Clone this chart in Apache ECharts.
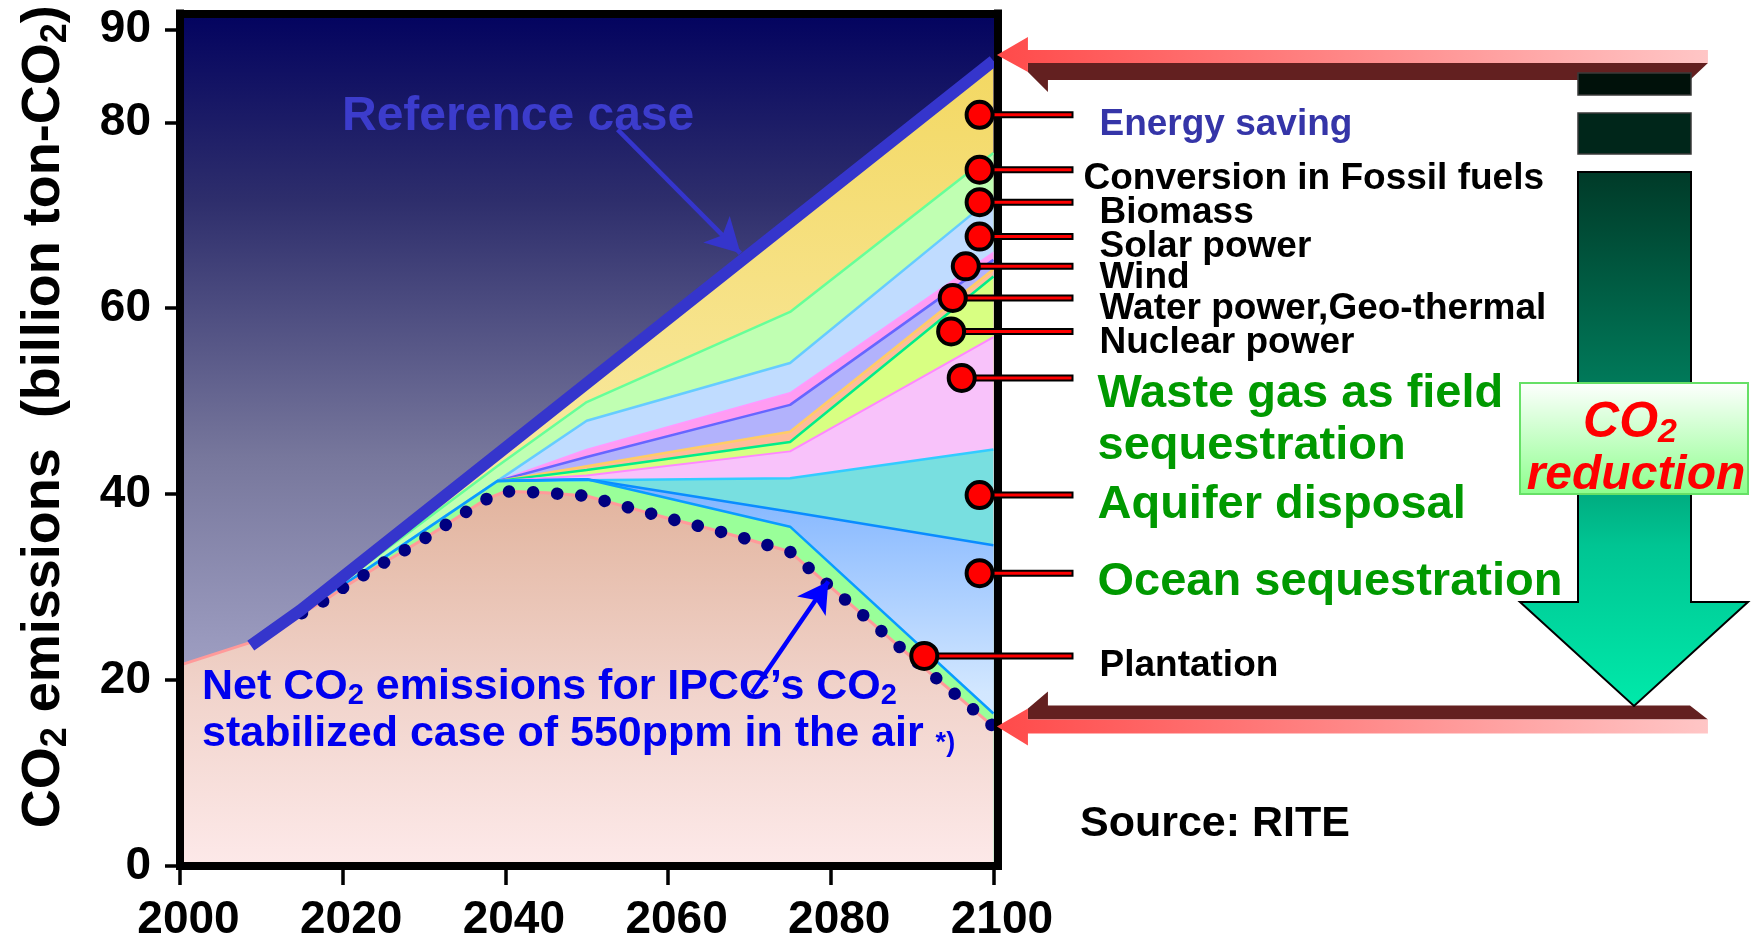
<!DOCTYPE html>
<html>
<head>
<meta charset="utf-8">
<title>CO2 emissions and reduction measures</title>
<script src="https://cdn.jsdelivr.net/npm/echarts@6/dist/echarts.min.js"></script>
<style>
  html, body { margin: 0; padding: 0; background: #ffffff; }
  #chart { width: 1762px; height: 946px; }
</style>
</head>
<body>
<div id="chart"></div>
<script>
// ---------------------------------------------------------------
// Data (billion ton-CO2)
// ---------------------------------------------------------------
const xTicks = [2000, 2020, 2040, 2060, 2080, 2100];
const yTicks = [0, 20, 40, 60, 80, 90];

// Reference case (no countermeasures)
const refYears  = [2008.7, 2014.8, 2100];
const refValues = [23.7, 27.5, 86.6];

// Net CO2 emissions for the IPCC 550 ppm stabilized case
const netYears  = [2000, 2008.5, 2015, 2017.5, 2020, 2025, 2030, 2035, 2037.5, 2040, 2045,
                   2050, 2055, 2060, 2065, 2070, 2075, 2080, 2085, 2090, 2095, 2100];
const netValues = [21.6, 24.0, 27.2, 28.4, 29.9, 32.6, 35.2, 38.0, 39.4, 40.3, 40.15,
                   39.8, 38.6, 37.4, 36.3, 35.1, 33.8, 30.0, 26.2, 22.4, 18.7, 15.0];

// Upper edge of each reduction wedge (cumulative level)
const wedgeYears     = [2015, 2039, 2050, 2075, 2100];
const conversionTop  = [27.3, 43.0, 49.9, 59.6, 76.7];
const biomassTop     = [27.25, 41.4, 47.9, 54.1, 72.0];
const solarTop       = [null, 41.4, 44.8, 50.9, 66.0];
const windTop        = [null, 41.4, 44.0, 49.6, 65.2];
const waterTop       = [null, 41.4, 43.0, 46.7, 64.2];
const nuclearTop     = [null, 41.4, 42.6, 45.6, 63.4];
const wasteGasTop    = [null, 41.4, 42.0, 44.6, 56.9];
const aquiferTop     = [null, 41.4, 41.5, 41.7, 44.8];
const oceanTop       = [null, 41.4, 41.6, 38.1, 34.5];
const plantationTop  = [27.2, 41.4, 41.6, 36.5, 16.4];

// Call-outs for the measures
const measureNames  = ['Energy saving', 'Conversion in Fossil fuels', 'Biomass', 'Solar power', 'Wind',
                       'Water power,Geo-thermal', 'Nuclear power', 'Waste gas as field\nsequestration',
                       'Aquifer disposal', 'Ocean sequestration', 'Plantation'];
const measureYears  = [2098.3, 2098.3, 2098.3, 2098.3, 2096.6, 2095.0, 2094.8, 2096.1, 2098.3, 2098.3, 2091.5];
const measureValues = [80.8, 74.9, 71.4, 67.7, 64.5, 61.1, 57.5, 52.5, 39.9, 31.5, 22.6];

// ---------------------------------------------------------------
const FONT = '"Liberation Sans", Arial, Helvetica, sans-serif';
const Y_MAX = 91.7;
const X_MAX = 2100.5;

// text placement of the call-outs (offset from the plot's right edge / marker)
const calloutKind = ['blue', 'black', 'black', 'black', 'black', 'black', 'black', 'green', 'green', 'green', 'black'];
const calloutDx   = [102, 86, 102, 102, 102, 102, 102, 100, 100, 100, 102];
const calloutDy   = [10, 9, 10.5, 10, 11.5, 11, 11.5, 42, 10, 8.5, 10];
const calloutFont = {
  blue:  { font: 'bold 37px ' + FONT, fill: '#3535a8' },
  black: { font: 'bold 37px ' + FONT, fill: '#000000' },
  green: { font: 'bold 47px ' + FONT, fill: '#009900' }
};

const pairs = (xs, ys) => xs.map((x, i) => [x, ys[i]]);
const vGrad = (stops) => ({ type: 'linear', x: 0, y: 0, x2: 0, y2: 1,
  colorStops: stops.map(s => ({ offset: s[0], color: s[1] })) });
const hGrad = (stops) => ({ type: 'linear', x: 0, y: 0, x2: 1, y2: 0,
  colorStops: stops.map(s => ({ offset: s[0], color: s[1] })) });

function wedge(name, top, fill, lineColor, lineWidth) {
  return {
    name, type: 'line', data: pairs(wedgeYears, top),
    symbol: 'none', silent: true, connectNulls: false,
    lineStyle: { color: lineColor, width: lineWidth },
    areaStyle: { color: fill, opacity: 1 }
  };
}

const chart = echarts.init(document.getElementById('chart'), null, { renderer: 'canvas' });

function renderCallout(params, api) {
  const i = params.dataIndex;
  const p = api.coord([api.value(0), api.value(1)]);
  const cs = params.coordSys;
  const right = cs.x + cs.width;
  const endX = right + 76;
  const st = calloutFont[calloutKind[i]];
  return {
    type: 'group',
    children: [
      { type: 'line', shape: { x1: p[0], y1: p[1], x2: endX, y2: p[1] },
        style: { stroke: '#000000', lineWidth: 7 } },
      { type: 'line', shape: { x1: p[0], y1: p[1], x2: endX - 2, y2: p[1] },
        style: { stroke: '#ff0000', lineWidth: 3 } },
      { type: 'circle', shape: { cx: p[0], cy: p[1], r: 13 },
        style: { fill: '#ff0000', stroke: '#000000', lineWidth: 4 } },
      { type: 'text', x: right + calloutDx[i], y: p[1] + calloutDy[i],
        style: { text: measureNames[i], font: st.font, fill: st.fill,
                 align: 'left', verticalAlign: 'middle', lineHeight: 52 } }
    ]
  };
}

// rich styles for a main run and a smaller run sitting on the same baseline
const subRich = (F, f, L, color, extra) => ({
  a: Object.assign({ fontSize: F, lineHeight: L, fontWeight: 'bold', fontFamily: FONT, color, fill: color }, extra || {}),
  s: Object.assign({ fontSize: f, lineHeight: L - 0.62 * (F - f), verticalAlign: 'bottom',
                     fontWeight: 'bold', fontFamily: FONT, color, fill: color }, extra || {})
});

const option = {
  animation: false,
  backgroundColor: '#ffffff',
  textStyle: { fontFamily: FONT },
  grid: {
    left: 180, top: 13.5, width: 817.5, height: 852.5,
    show: true, borderWidth: 0,
    backgroundColor: vGrad([[0, '#03035f'], [0.22, '#2e2e6c'], [0.52, '#77779c'],
                            [0.74, '#9a9abe'], [1, '#b8b8d8']]),
    outerBoundsMode: 'none'
  },
  xAxis: [{
    type: 'value', min: 2000, max: X_MAX, position: 'bottom', z: 10,
    axisLine: { show: true, onZero: false, lineStyle: { color: '#000', width: 8, cap: 'square' } },
    axisTick: { show: true, customValues: xTicks, length: 19, lineStyle: { color: '#000', width: 3.5 } },
    axisLabel: { customValues: xTicks, formatter: v => String(v), margin: 31, padding: [0, 0, 0, 17],
                 color: '#000', fontFamily: FONT, fontWeight: 'bold', fontSize: 46 },
    splitLine: { show: false }
  }, {
    type: 'value', min: 2000, max: X_MAX, position: 'top', z: 10,
    axisLine: { show: true, onZero: false, lineStyle: { color: '#000', width: 8, cap: 'square' } },
    axisTick: { show: false }, axisLabel: { show: false }, splitLine: { show: false }
  }],
  yAxis: [{
    type: 'value', min: 0, max: Y_MAX, position: 'left', z: 10,
    axisLine: { show: true, onZero: false, lineStyle: { color: '#000', width: 8, cap: 'square' } },
    axisTick: { show: true, customValues: yTicks, length: 15, lineStyle: { color: '#000', width: 3.5 } },
    axisLabel: { customValues: yTicks, margin: 29, color: '#000',
                 fontFamily: FONT, fontWeight: 'bold', fontSize: 46 },
    splitLine: { show: false },
    name: '{a|CO}{s|2}{a| emissions  (billion ton-CO}{s|2}{a|)}',
    nameLocation: 'middle', nameRotate: 90, nameGap: 106,
    nameTextStyle: { padding: [0, 0, 0, 46], rich: subRich(54, 36, 60, '#000') }
  }, {
    type: 'value', min: 0, max: Y_MAX, position: 'right', z: 10,
    axisLine: { show: true, onZero: false, lineStyle: { color: '#000', width: 8, cap: 'square' } },
    axisTick: { show: false }, axisLabel: { show: false }, splitLine: { show: false }
  }],
  series: [
    // Energy saving fills everything under the reference case
    { name: 'Energy saving', type: 'line', data: pairs(refYears, refValues), symbol: 'none', silent: true,
      lineStyle: { width: 0 },
      areaStyle: { opacity: 1, color: vGrad([[0, '#f3d862'], [0.45, '#f8e79a'], [1, '#fff4c4']]) } },
    wedge('Conversion in Fossil fuels', conversionTop, '#c0ffb2', '#66ff99', 2.5),
    wedge('Biomass', biomassTop, '#c0dcff', '#66ccff', 2.5),
    wedge('Solar power', solarTop, '#ff9cf2', '#ff99ff', 1.5),
    wedge('Wind', windTop, '#b2b2fc', '#6666ff', 2.5),
    wedge('Water power,Geo-thermal', waterTop, '#ffbb99', '#ffcc66', 2.5),
    wedge('Nuclear power', nuclearTop, '#d8ff82', '#00ee88', 2.5),
    wedge('Waste gas as field sequestration', wasteGasTop, '#f8c2fa', '#ff88ff', 2),
    wedge('Aquifer disposal', aquiferTop, '#78dfe0', '#33ccff', 2.5),
    { name: 'Ocean sequestration', type: 'line', data: pairs(wedgeYears, oceanTop), symbol: 'none', silent: true,
      lineStyle: { color: '#0a8cff', width: 2.5 },
      areaStyle: { opacity: 1, color: vGrad([[0, '#7fb3ff'], [0.55, '#d2e7ff'], [1, '#eaf4ff']]) } },
    wedge('Plantation', plantationTop, '#99ff99', '#0a9cff', 2.5),
    // Net emissions
    { name: 'Net CO2 emissions', type: 'line', data: pairs(netYears, netValues), symbol: 'none', silent: true,
      lineStyle: { color: '#ff9a9a', width: 3 },
      areaStyle: { opacity: 1, color: vGrad([[0, '#e2b49e'], [0.55, '#f1d4cc'], [1, '#fde9e9']]) } },
    // IPCC 550 ppm path, dotted
    { name: 'IPCC 550ppm', type: 'line',
      data: pairs(netYears, netValues).filter(d => d[0] >= 2015),
      symbol: 'none', silent: true,
      lineStyle: { color: '#000080', width: 12.5, type: [0.1, 24], cap: 'round' },
      markLine: {
        silent: true, symbol: ['none', 'arrow'], symbolSize: [26, 30],
        label: { show: false },
        lineStyle: { color: '#0000ff', width: 4.5, type: 'solid' },
        data: [[{ coord: [2070.3, 18.6] }, { coord: [2079.7, 30.6] }]]
      } },
    // Reference case line
    { name: 'Reference case', type: 'line', data: pairs(refYears, refValues), symbol: 'none', silent: true,
      lineStyle: { color: '#3535cc', width: 12, cap: 'butt' },
      markLine: {
        silent: true, symbol: ['none', 'arrow'], symbolSize: [28, 34],
        label: { show: false },
        lineStyle: { color: '#3535cc', width: 4.5, type: 'solid' },
        data: [[{ coord: [2053.8, 79.2] }, { coord: [2068.9, 65.9] }]]
      } },
    // Measure call-outs
    { name: 'Measures', type: 'custom', coordinateSystem: 'cartesian2d', clip: false, silent: true, z: 20,
      data: pairs(measureYears, measureValues), encode: { x: 0, y: 1 },
      renderItem: renderCallout }
  ]
};

chart.setOption(option);

// Decorations tied to the 2100 levels: reference case (top) and net emissions (bottom)
const last = refValues.length - 1;
const topTip = chart.convertToPixel({ gridIndex: 0 }, [2100, refValues[last]]);
const botTip = chart.convertToPixel({ gridIndex: 0 }, [2100, netValues[netValues.length - 1]]);
const tipX = topTip[0] + 3.5;
const pinkFace = hGrad([[0, '#ff4a4a'], [0.5, '#ff8888'], [1, '#ffc6c6']]);
const maroon = '#632020';
const poly = (pts, x0, y0) => pts.map(p => [x0 + p[0], y0 + p[1]]);

const topY = topTip[1] - 6;
const botY = botTip[1];

const graphics = [
  // top arrow: face over a dark lower edge
  { type: 'polygon', silent: true, z: 30, shape: { points: poly([[31, 8], [711, 8], [693, 25], [51, 25], [51, 37], [31, 17]], tipX, topY) },
    style: { fill: maroon } },
  { type: 'polygon', silent: true, z: 31, shape: { points: poly([[0, 0], [31, -18], [31, -5], [711, -5], [711, 8], [31, 8], [31, 17]], tipX, topY) },
    style: { fill: pinkFace } },
  // bottom arrow: dark upper edge over the face
  { type: 'polygon', silent: true, z: 30, shape: { points: poly([[31, -18], [51, -35], [51, -21], [693, -21], [711, -7], [31, -7]], tipX, botY) },
    style: { fill: maroon } },
  { type: 'polygon', silent: true, z: 31, shape: { points: poly([[0, 0], [31, -18], [31, -7], [711, -7], [711, 7], [31, 7], [31, 19]], tipX, botY) },
    style: { fill: pinkFace } },

  // big reduction arrow
  { type: 'rect', silent: true, z: 30, shape: { x: 1578, y: 73, width: 113, height: 22 },
    style: { fill: '#00110a', stroke: '#3a3a3a', lineWidth: 1.5 } },
  { type: 'rect', silent: true, z: 30, shape: { x: 1578, y: 113, width: 113, height: 41 },
    style: { fill: '#00261a', stroke: '#3a3a3a', lineWidth: 1.5 } },
  { type: 'polygon', silent: true, z: 30,
    shape: { points: [[1578, 172], [1691, 172], [1691, 602], [1748, 602], [1634, 706], [1520, 602], [1578, 602]] },
    style: { fill: vGrad([[0, '#003a28'], [0.4, '#007a5a'], [0.7, '#00c593'], [1, '#00eaaa']]),
             stroke: '#000000', lineWidth: 2 } },
  { type: 'rect', silent: true, z: 31, shape: { x: 1520, y: 383, width: 228, height: 111 },
    style: { fill: vGrad([[0, '#ffffff'], [1, '#8cff8c']]), stroke: '#66e066', lineWidth: 2 } },
  { type: 'text', silent: true, z: 32, x: 1630, y: 423,
    style: { text: '{a|CO}{s|2}', align: 'center', verticalAlign: 'middle',
             fill: '#ff0000',
             shadowColor: 'rgba(120,120,120,0.6)', shadowOffsetX: 2, shadowOffsetY: 2,
             rich: subRich(50, 34, 54, '#ff0000', { fontStyle: 'italic' }) } },
  { type: 'text', silent: true, z: 32, x: 1636, y: 476,
    style: { text: 'reduction', align: 'center', verticalAlign: 'middle',
             font: 'italic bold 48px ' + FONT, fill: '#ff0000',
             shadowColor: 'rgba(120,120,120,0.6)', shadowOffsetX: 2, shadowOffsetY: 2 } },

  // annotations inside the plot
  { type: 'text', silent: true, z: 25, x: 342, y: 116.5,
    style: { text: 'Reference case', font: 'bold 48px ' + FONT, fill: '#3c3ccc',
             align: 'left', verticalAlign: 'middle',
             shadowColor: '#c4c4c4', shadowOffsetX: 2.5, shadowOffsetY: 2.5 } },
  { type: 'text', silent: true, z: 25, x: 202, y: 687,
    style: { text: "{a|Net CO}{s|2}{a| emissions for IPCC\u2019s CO}{s|2}", fill: '#0000ee',
             align: 'left', verticalAlign: 'middle', rich: subRich(43, 29, 46, '#0000ee') } },
  { type: 'text', silent: true, z: 25, x: 202, y: 734,
    style: { text: '{a|stabilized case of 550ppm in the air }{s|*)}', fill: '#0000ee',
             align: 'left', verticalAlign: 'middle', rich: subRich(43, 27, 46, '#0000ee') } },

  { type: 'text', silent: true, z: 25, x: 1080, y: 824,
    style: { text: 'Source: RITE', font: 'bold 43px ' + FONT, fill: '#000000',
             align: 'left', verticalAlign: 'middle' } }
];

chart.setOption({ graphic: graphics });
</script>
</body>
</html>
